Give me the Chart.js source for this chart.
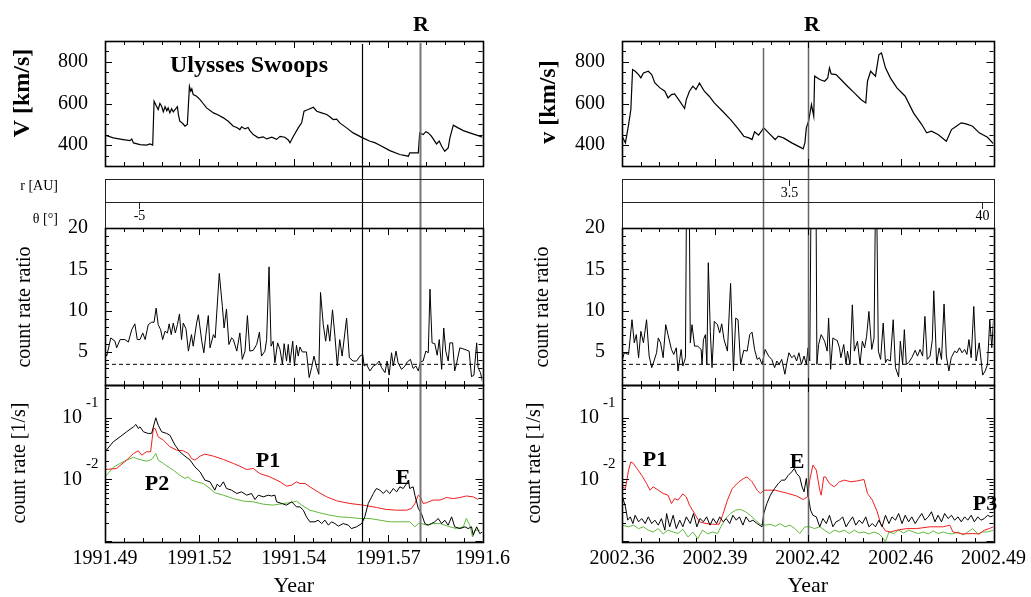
<!DOCTYPE html>
<html><head><meta charset="utf-8">
<script src="https://cdn.jsdelivr.net/npm/chart.js@4.4.1/dist/chart.umd.min.js"></script>
<style>
html,body{margin:0;padding:0;background:#fff;}
#wrap{position:relative;width:1031px;height:597px;overflow:hidden;background:#fff;}
#cL{position:absolute;left:0;top:0;}
#cR{position:absolute;left:510px;top:0;}
</style></head><body>
<div id="wrap"><canvas id="cL" width="515" height="597"></canvas><canvas id="cR" width="521" height="597"></canvas></div>
<script>
const SERIF = "'Liberation Serif','Times New Roman',serif";

// ---------- tick labels / axis ranges ----------
const xTicksLeft = [1991.49, 1991.5175, 1991.545, 1991.5725, 1991.6];
const xTickLabelsLeft = ['1991.49','1991.52','1991.54','1991.57','1991.6'];
const xTicksRight = [2002.36, 2002.3925, 2002.425, 2002.4575, 2002.49];
const xTickLabelsRight = ['2002.36','2002.39','2002.42','2002.46','2002.49'];
const vTicks = [400, 600, 800];
const ratioTicks = [5, 10, 15, 20];
const countTicks = [0.1, 0.01];
const ratioThreshold = 3.5;
const rLinesLeft = [1991.5650, 1991.5817];
const rLinesRight = [2002.4093, 2002.4251];

// ---------- solar wind speed ----------
const vLeftYear = [1991.4900,1991.4924,1991.4953,1991.4973,1991.4978,1991.4983,1991.5002,1991.5021,1991.5031,1991.5039,
1991.5043,1991.5049,1991.5055,1991.5060,1991.5065,1991.5070,1991.5075,1991.5080,1991.5084,1991.5089,
1991.5094,1991.5099,1991.5104,1991.5111,1991.5114,1991.5118,1991.5126,1991.5133,1991.5140,1991.5146,
1991.5150,1991.5153,1991.5157,1991.5167,1991.5177,1991.5186,1991.5196,1991.5216,1991.5230,1991.5245,
1991.5259,1991.5274,1991.5284,1991.5293,1991.5298,1991.5308,1991.5317,1991.5322,1991.5332,1991.5347,
1991.5361,1991.5371,1991.5386,1991.5400,1991.5410,1991.5424,1991.5434,1991.5439,1991.5449,1991.5463,
1991.5473,1991.5480,1991.5492,1991.5507,1991.5517,1991.5531,1991.5546,1991.5556,1991.5565,1991.5575,
1991.5584,1991.5604,1991.5623,1991.5651,1991.5672,1991.5686,1991.5701,1991.5730,1991.5759,1991.5784,
1991.5788,1991.5813,1991.5817,1991.5827,1991.5835,1991.5842,1991.5851,1991.5866,1991.5874,1991.5881,
1991.5890,1991.5900,1991.5905,1991.5915,1991.5929,1991.5944,1991.5963,1991.5983,1991.6000];
const vLeft = [448,435,427,422,430,411,403,400,406,400,
611,590,571,600,587,560,585,565,579,555,
575,560,571,585,545,515,505,491,499,683,
659,670,643,635,619,600,579,555,545,531,
515,491,485,475,488,478,485,470,451,435,
440,430,438,428,442,438,425,411,443,483,
507,563,571,582,563,555,547,535,523,525,
507,483,459,435,419,412,400,374,355,347,
363,363,459,451,465,459,443,406,420,395,
371,387,435,496,483,470,459,448,438];

const vRightYear = [2002.3600,2002.3612,2002.3623,2002.3631,2002.3637,2002.3646,2002.3658,2002.3666,2002.3675,2002.3692,
2002.3704,2002.3715,2002.3733,2002.3750,2002.3761,2002.3773,2002.3784,2002.3802,2002.3819,2002.3825,
2002.3836,2002.3848,2002.3859,2002.3871,2002.3888,2002.3905,2002.3923,2002.3952,2002.3980,2002.4009,
2002.4026,2002.4044,2002.4055,2002.4064,2002.4078,2002.4096,2002.4113,2002.4136,2002.4147,2002.4165,
2002.4194,2002.4228,2002.4234,2002.4240,2002.4245,2002.4253,2002.4263,2002.4271,2002.4274,2002.4292,
2002.4309,2002.4320,2002.4326,2002.4332,2002.4349,2002.4366,2002.4389,2002.4413,2002.4436,2002.4453,
2002.4459,2002.4470,2002.4487,2002.4499,2002.4508,2002.4522,2002.4539,2002.4562,2002.4591,2002.4620,
2002.4649,2002.4666,2002.4683,2002.4706,2002.4735,2002.4753,2002.4770,2002.4787,2002.4804,2002.4827,
2002.4850,2002.4879,2002.4900];
const vRight = [443,411,499,571,763,755,739,723,747,755,
739,699,675,659,627,643,646,611,576,619,
659,683,667,698,659,635,603,563,523,475,
443,435,427,464,448,483,459,427,443,435,
411,387,382,411,483,515,595,539,731,715,
707,723,771,742,739,715,683,651,619,603,
707,755,731,835,843,771,723,675,635,555,
499,459,467,451,419,475,491,507,502,491,
459,438,406];

// ---------- count rate ratio ----------
const ratioLeftYear = [1991.4900,1991.4905,1991.4917,1991.4929,1991.4934,1991.4944,1991.4958,1991.4968,1991.4978,1991.4987,
1991.4994,1991.5002,1991.5010,1991.5017,1991.5026,1991.5036,1991.5043,1991.5049,1991.5055,1991.5062,
1991.5068,1991.5075,1991.5082,1991.5087,1991.5093,1991.5099,1991.5105,1991.5111,1991.5117,1991.5123,
1991.5128,1991.5136,1991.5143,1991.5152,1991.5157,1991.5167,1991.5172,1991.5182,1991.5188,1991.5194,
1991.5201,1991.5206,1991.5216,1991.5221,1991.5233,1991.5242,1991.5247,1991.5254,1991.5261,1991.5269,
1991.5274,1991.5284,1991.5293,1991.5300,1991.5308,1991.5315,1991.5322,1991.5332,1991.5342,1991.5350,
1991.5356,1991.5366,1991.5371,1991.5378,1991.5384,1991.5390,1991.5395,1991.5403,1991.5410,1991.5417,
1991.5422,1991.5429,1991.5434,1991.5439,1991.5447,1991.5452,1991.5458,1991.5463,1991.5468,1991.5475,
1991.5487,1991.5495,1991.5502,1991.5509,1991.5517,1991.5523,1991.5528,1991.5536,1991.5543,1991.5549,
1991.5555,1991.5563,1991.5570,1991.5577,1991.5584,1991.5591,1991.5604,1991.5612,1991.5623,1991.5633,
1991.5643,1991.5651,1991.5655,1991.5662,1991.5672,1991.5682,1991.5691,1991.5699,1991.5706,1991.5716,
1991.5722,1991.5728,1991.5735,1991.5740,1991.5748,1991.5754,1991.5764,1991.5774,1991.5781,1991.5790,
1991.5798,1991.5806,1991.5813,1991.5819,1991.5827,1991.5835,1991.5842,1991.5847,1991.5853,1991.5861,
1991.5868,1991.5874,1991.5881,1991.5887,1991.5893,1991.5900,1991.5905,1991.5913,1991.5919,1991.5924,
1991.5934,1991.5949,1991.5961,1991.5968,1991.5975,1991.5983,1991.5987,1991.5994,1991.6000];
const ratioLeft = [5.0,4.5,6.7,6.3,5.5,6.5,6.5,6.2,7.7,8.4,
6.5,6.5,7.3,6.5,8.3,8.6,8.6,10.3,8.3,7.7,
6.5,7.5,7.3,8.4,7.1,8.5,7.3,8.3,9.6,6.5,
8.5,7.8,5.1,7.1,5.7,8.5,9.5,6.3,4.9,7.1,
9.4,5.5,7.1,6.7,14.5,10.5,7.9,10.2,5.9,6.7,
6.5,5.1,7.3,4.1,5.1,9.4,5.1,5.2,5.9,7.4,
4.5,5.1,6.5,15.3,5.7,6.3,3.7,6.1,5.3,3.5,
6.0,3.9,5.9,3.7,6.3,3.3,5.8,4.5,5.6,5.0,
5.0,1.9,3.1,4.5,3.1,2.3,12.2,8.3,6.3,8.3,
6.3,10.1,6.9,3.3,6.5,4.5,9.1,4.3,3.9,3.9,
4.5,4.7,3.3,3.5,2.7,3.3,3.5,3.9,3.1,2.5,
3.9,2.2,4.9,3.3,5.1,3.7,2.9,3.3,3.8,4.1,
3.0,3.3,2.7,3.8,3.9,5.1,4.9,12.6,6.1,6.0,
4.6,6.5,2.9,7.9,5.1,3.9,6.1,6.1,2.7,3.5,
5.5,5.3,5.1,2.0,2.2,6.1,3.1,2.5,1.4];

const ratioRightYear = [2002.3600,2002.3608,2002.3623,2002.3635,2002.3643,2002.3650,2002.3658,2002.3666,2002.3675,2002.3686,
2002.3695,2002.3704,2002.3712,2002.3721,2002.3727,2002.3735,2002.3744,2002.3753,2002.3761,2002.3773,
2002.3781,2002.3790,2002.3796,2002.3802,2002.3807,2002.3813,2002.3822,2002.3827,2002.3834,2002.3839,
2002.3845,2002.3854,2002.3865,2002.3877,2002.3880,2002.3885,2002.3892,2002.3897,2002.3902,2002.3909,
2002.3915,2002.3923,2002.3934,2002.3942,2002.3949,2002.3957,2002.3969,2002.3980,2002.3990,2002.3998,
2002.4006,2002.4015,2002.4026,2002.4038,2002.4047,2002.4055,2002.4064,2002.4073,2002.4081,2002.4090,
2002.4101,2002.4113,2002.4124,2002.4134,2002.4142,2002.4150,2002.4159,2002.4170,2002.4176,2002.4184,
2002.4194,2002.4203,2002.4211,2002.4219,2002.4228,2002.4237,2002.4245,2002.4251,2002.4257,2002.4263,
2002.4271,2002.4278,2002.4282,2002.4288,2002.4297,2002.4309,2002.4318,2002.4323,2002.4330,2002.4338,
2002.4346,2002.4353,2002.4361,2002.4366,2002.4376,2002.4384,2002.4389,2002.4398,2002.4406,2002.4413,
2002.4424,2002.4433,2002.4441,2002.4449,2002.4456,2002.4464,2002.4474,2002.4482,2002.4489,2002.4497,
2002.4505,2002.4514,2002.4522,2002.4528,2002.4539,2002.4549,2002.4557,2002.4568,2002.4574,2002.4582,
2002.4588,2002.4595,2002.4603,2002.4614,2002.4626,2002.4634,2002.4643,2002.4652,2002.4660,2002.4668,
2002.4678,2002.4686,2002.4691,2002.4701,2002.4710,2002.4718,2002.4727,2002.4735,2002.4744,2002.4752,
2002.4764,2002.4772,2002.4781,2002.4790,2002.4799,2002.4807,2002.4814,2002.4822,2002.4831,2002.4839,
2002.4850,2002.4862,2002.4871,2002.4879,2002.4887,2002.4894,2002.4900];
const ratioRight = [3.9,4.9,4.7,8.9,6.1,7.1,4.3,7.5,6.1,8.9,
4.5,3.1,3.9,4.9,6.7,6.1,4.3,8.3,7.1,5.3,
4.7,5.5,2.7,4.1,5.3,3.3,4.3,30,30,6.1,
8.3,5.7,5.7,5.3,3.5,6.5,7.1,3.5,15.8,7.5,
3.1,8.7,8.3,7.3,8.4,6.5,5.1,13.3,2.7,9.1,
8.9,3.5,5.2,5.1,7.1,7.4,5.3,4.1,4.3,3.5,
5.3,4.5,4.1,3.1,3.9,3.5,4.1,2.3,3.5,4.9,
4.3,4.6,3.9,4.9,3.5,4.5,3.5,5.5,3.9,30,
30,30,3.5,5.9,7.1,6.3,5.1,9.1,2.9,6.7,
6.5,6.4,5.5,4.3,5.9,3.5,5.1,3.5,10.7,5.1,
6.3,3.5,6.3,5.5,6.9,9.9,5.3,6.7,30,5.1,
4.1,8.5,3.7,4.1,3.9,8.9,3.1,2.0,6.3,3.5,
7.7,3.5,3.7,4.3,5.2,4.5,5.3,4.5,9.3,4.1,
4.5,6.5,12.4,3.5,5.5,4.1,10.8,4.5,2.7,4.3,
5.1,4.9,5.5,4.9,5.3,4.7,6.5,4.3,10.5,3.9,
6.1,2.2,2.7,3.5,8.9,5.5,8.9];

// ---------- count rates [1/s] ----------
const eLeftYear = [1991.4900,1991.4924,1991.4944,1991.4963,1991.4983,1991.4990,1991.4997,1991.5002,1991.5012,1991.5026,
1991.5036,1991.5048,1991.5055,1991.5065,1991.5080,1991.5089,1991.5104,1991.5118,1991.5133,1991.5148,
1991.5162,1991.5177,1991.5191,1991.5206,1991.5220,1991.5227,1991.5235,1991.5245,1991.5254,1991.5269,
1991.5284,1991.5298,1991.5313,1991.5327,1991.5337,1991.5347,1991.5361,1991.5376,1991.5385,1991.5395,
1991.5400,1991.5415,1991.5429,1991.5444,1991.5458,1991.5468,1991.5478,1991.5487,1991.5497,1991.5512,
1991.5521,1991.5531,1991.5541,1991.5551,1991.5560,1991.5570,1991.5580,1991.5594,1991.5609,1991.5618,
1991.5633,1991.5648,1991.5657,1991.5667,1991.5682,1991.5691,1991.5701,1991.5711,1991.5720,1991.5730,
1991.5740,1991.5750,1991.5759,1991.5769,1991.5779,1991.5784,1991.5788,1991.5798,1991.5803,1991.5813,
1991.5822,1991.5832,1991.5842,1991.5851,1991.5861,1991.5871,1991.5881,1991.5890,1991.5900,1991.5910,
1991.5919,1991.5934,1991.5949,1991.5958,1991.5968,1991.5973,1991.5983,1991.5992,1991.6000];
const eLeft = [0.0281,0.0408,0.0492,0.0593,0.0714,0.078,0.0672,0.0714,0.0593,0.0557,
0.056,0.1,0.076,0.0593,0.0557,0.0523,0.0361,0.0281,0.0239,0.0206,
0.016,0.0133,0.00976,0.00917,0.00671,0.0084,0.0076,0.00917,0.00715,0.00671,
0.00593,0.0063,0.00557,0.00593,0.00474,0.00557,0.00523,0.00557,0.0054,0.00557,
0.00435,0.00408,0.00384,0.00435,0.0036,0.0036,0.00318,0.00248,0.00206,0.00206,
0.00219,0.00193,0.00219,0.00182,0.00206,0.00193,0.00175,0.00193,0.00182,0.0016,
0.00171,0.00193,0.00248,0.00408,0.00593,0.00715,0.00671,0.00593,0.00671,0.00593,
0.00715,0.0063,0.0076,0.00715,0.00861,0.00976,0.00715,0.0076,0.00557,0.00339,
0.00281,0.00193,0.00182,0.00193,0.00206,0.00233,0.00193,0.00219,0.00182,0.00248,
0.00171,0.0016,0.00171,0.0016,0.00171,0.00125,0.00171,0.00133,0.00141];

const p1LeftYear = [1991.4900,1991.4934,1991.4963,1991.4983,1991.4997,1991.5007,1991.5021,1991.5033,1991.5041,1991.5046,
1991.5055,1991.5070,1991.5089,1991.5109,1991.5128,1991.5143,1991.5152,1991.5162,1991.5177,1991.5191,
1991.5216,1991.5245,1991.5274,1991.5293,1991.5313,1991.5332,1991.5351,1991.5381,1991.5410,1991.5429,
1991.5444,1991.5458,1991.5468,1991.5483,1991.5497,1991.5517,1991.5546,1991.5575,1991.5614,1991.5652,
1991.5691,1991.5720,1991.5750,1991.5779,1991.5793,1991.5803,1991.5813,1991.5819,1991.5827,1991.5837,
1991.5856,1991.5876,1991.5895,1991.5915,1991.5934,1991.5953,1991.5973,1991.5987];
const p1Left = [0.0145,0.0151,0.0206,0.0264,0.0292,0.0248,0.0281,0.0281,0.0672,0.0672,
0.0492,0.0435,0.0339,0.0299,0.0292,0.0264,0.0219,0.0206,0.0239,0.0258,
0.0239,0.0211,0.0182,0.0164,0.0145,0.0151,0.0125,0.011,0.00917,0.0078,
0.0081,0.00917,0.00861,0.00861,0.0076,0.00647,0.00523,0.00451,0.00408,0.00384,
0.00352,0.00327,0.00318,0.00318,0.0034,0.00408,0.00557,0.00523,0.00408,0.0042,
0.00464,0.00464,0.0051,0.0049,0.0051,0.0054,0.00523,0.00474];

const p2LeftYear = [1991.4900,1991.4924,1991.4944,1991.4963,1991.4983,1991.4992,1991.5007,1991.5021,1991.5031,1991.5039,
1991.5048,1991.5055,1991.5070,1991.5084,1991.5099,1991.5118,1991.5133,1991.5143,1991.5152,1991.5167,
1991.5186,1991.5206,1991.5220,1991.5245,1991.5274,1991.5303,1991.5332,1991.5361,1991.5390,1991.5419,
1991.5439,1991.5458,1991.5473,1991.5497,1991.5526,1991.5555,1991.5584,1991.5614,1991.5643,1991.5672,
1991.5701,1991.5730,1991.5759,1991.5788,1991.5803,1991.5813,1991.5822,1991.5837,1991.5856,1991.5876,
1991.5905,1991.5924,1991.5944,1991.5953,1991.5963,1991.5971,1991.5978,1991.5992];
const p2Left = [0.011,0.0157,0.0182,0.0206,0.0228,0.0219,0.0206,0.0198,0.0206,0.0219,
0.0264,0.0206,0.0182,0.016,0.0142,0.0117,0.0104,0.011,0.00976,0.00917,
0.00861,0.00715,0.00608,0.00557,0.0049,0.00446,0.00435,0.00398,0.00384,0.00408,
0.0042,0.00446,0.00384,0.00318,0.00288,0.00264,0.00248,0.00242,0.00233,0.00233,
0.00219,0.00206,0.00206,0.00206,0.00171,0.00193,0.00193,0.00182,0.00193,0.00193,
0.00171,0.0016,0.00171,0.00233,0.00182,0.00117,0.00151,0.00151];

const eRightYear = [2002.3600,2002.3612,2002.3620,2002.3629,2002.3638,2002.3646,2002.3658,2002.3669,2002.3681,2002.3692,
2002.3704,2002.3715,2002.3727,2002.3738,2002.3750,2002.3756,2002.3767,2002.3779,2002.3790,2002.3802,
2002.3813,2002.3825,2002.3839,2002.3850,2002.3862,2002.3873,2002.3885,2002.3896,2002.3908,2002.3919,
2002.3931,2002.3942,2002.3954,2002.3965,2002.3977,2002.3988,2002.4000,2002.4011,2002.4023,2002.4034,
2002.4046,2002.4058,2002.4073,2002.4090,2002.4096,2002.4107,2002.4119,2002.4134,2002.4147,2002.4159,
2002.4170,2002.4182,2002.4194,2002.4203,2002.4211,2002.4222,2002.4230,2002.4237,2002.4245,2002.4251,
2002.4260,2002.4268,2002.4280,2002.4292,2002.4303,2002.4315,2002.4326,2002.4338,2002.4349,2002.4361,
2002.4372,2002.4384,2002.4395,2002.4407,2002.4418,2002.4430,2002.4441,2002.4453,2002.4464,2002.4476,
2002.4487,2002.4499,2002.4510,2002.4522,2002.4534,2002.4545,2002.4557,2002.4568,2002.4580,2002.4591,
2002.4603,2002.4614,2002.4626,2002.4637,2002.4649,2002.4660,2002.4672,2002.4683,2002.4695,2002.4706,
2002.4718,2002.4729,2002.4741,2002.4753,2002.4764,2002.4776,2002.4787,2002.4799,2002.4810,2002.4822,
2002.4833,2002.4845,2002.4856,2002.4868,2002.4879,2002.4891,2002.4900];
const eRight = [0.00557,0.0036,0.00219,0.00248,0.00193,0.00263,0.00206,0.00233,0.00193,0.00248,
0.00193,0.00219,0.00182,0.00233,0.00151,0.00281,0.00171,0.00263,0.0016,0.00219,
0.00171,0.00248,0.00193,0.00281,0.00171,0.00233,0.00206,0.00248,0.00182,0.00233,
0.00193,0.00248,0.00206,0.00233,0.00193,0.00263,0.00219,0.00248,0.00182,0.00248,
0.00206,0.00219,0.00193,0.00171,0.00281,0.00408,0.00557,0.00715,0.00861,0.00976,
0.00976,0.0117,0.0133,0.0151,0.0125,0.011,0.0076,0.0063,0.0104,0.00557,
0.00318,0.00263,0.00248,0.00171,0.00233,0.00193,0.00263,0.00171,0.00206,0.00219,
0.00248,0.00171,0.00206,0.00248,0.00182,0.00219,0.00193,0.00248,0.00171,0.00193,
0.00171,0.00219,0.00171,0.00263,0.00193,0.00248,0.00219,0.00281,0.00193,0.00263,
0.00206,0.00248,0.00193,0.00233,0.00281,0.00219,0.00248,0.003,0.00206,0.00263,
0.00206,0.00281,0.00233,0.00263,0.00219,0.00248,0.00206,0.00248,0.00219,0.00263,
0.00206,0.00248,0.00219,0.00233,0.00263,0.00248,0.00263];

const p1RightYear = [2002.3600,2002.3612,2002.3623,2002.3631,2002.3640,2002.3652,2002.3669,2002.3686,2002.3698,2002.3709,
2002.3727,2002.3744,2002.3761,2002.3773,2002.3784,2002.3796,2002.3813,2002.3825,2002.3836,2002.3854,
2002.3871,2002.3894,2002.3917,2002.3940,2002.3952,2002.3969,2002.3986,2002.4009,2002.4026,2002.4038,
2002.4055,2002.4073,2002.4084,2002.4096,2002.4136,2002.4159,2002.4182,2002.4211,2002.4234,2002.4249,
2002.4257,2002.4268,2002.4280,2002.4292,2002.4297,2002.4306,2002.4312,2002.4326,2002.4343,2002.4361,
2002.4378,2002.4401,2002.4424,2002.4447,2002.4459,2002.4476,2002.4493,2002.4505,2002.4522,2002.4539,
2002.4562,2002.4597,2002.4631,2002.4678,2002.4724,2002.4747,2002.4758,2002.4793,2002.4827,2002.4850,
2002.4868,2002.4885,2002.4900];
const p1Right = [0.0076,0.00715,0.0142,0.0193,0.0182,0.0151,0.0117,0.00861,0.00671,0.0076,
0.00671,0.00593,0.00557,0.00408,0.0049,0.00464,0.00584,0.00523,0.00384,0.00281,
0.00206,0.00193,0.00188,0.00188,0.00263,0.00464,0.00715,0.00917,0.0104,0.011,
0.00917,0.00671,0.00593,0.00671,0.00671,0.0063,0.00593,0.0054,0.00474,0.00523,
0.00976,0.0171,0.0142,0.00671,0.00557,0.011,0.011,0.00861,0.0076,0.00917,
0.00976,0.00917,0.0095,0.01,0.00593,0.00464,0.003,0.00193,0.00147,0.00141,
0.00151,0.0016,0.0016,0.00171,0.00171,0.00182,0.00141,0.00131,0.00133,0.00131,
0.00151,0.0016,0.00171];

const p2RightYear = [2002.3600,2002.3623,2002.3640,2002.3658,2002.3675,2002.3692,2002.3709,2002.3727,2002.3744,2002.3761,
2002.3779,2002.3796,2002.3813,2002.3831,2002.3848,2002.3865,2002.3882,2002.3900,2002.3917,2002.3934,
2002.3946,2002.3963,2002.3980,2002.3998,2002.4015,2002.4032,2002.4049,2002.4067,2002.4084,2002.4101,
2002.4119,2002.4136,2002.4153,2002.4170,2002.4188,2002.4205,2002.4222,2002.4240,2002.4257,2002.4274,
2002.4292,2002.4309,2002.4326,2002.4343,2002.4361,2002.4378,2002.4395,2002.4413,2002.4430,2002.4447,
2002.4464,2002.4482,2002.4499,2002.4510,2002.4522,2002.4534,2002.4551,2002.4568,2002.4585,2002.4603,
2002.4620,2002.4637,2002.4655,2002.4672,2002.4689,2002.4706,2002.4724,2002.4741,2002.4758,2002.4776,
2002.4793,2002.4810,2002.4827,2002.4845,2002.4862,2002.4879,2002.4900];
const p2Right = [0.00182,0.00171,0.00182,0.0016,0.00171,0.00151,0.00141,0.0016,0.00131,0.00151,
0.00141,0.00133,0.00156,0.00117,0.00141,0.0011,0.00151,0.00131,0.00141,0.00133,
0.00171,0.00233,0.00281,0.00318,0.00327,0.003,0.00263,0.00219,0.00188,0.00182,
0.00188,0.00175,0.00193,0.00171,0.00182,0.0016,0.00133,0.00171,0.00171,0.0016,
0.00171,0.00151,0.00133,0.00151,0.00141,0.00151,0.00133,0.00151,0.00136,0.00141,
0.00131,0.00141,0.00131,0.00117,0.00098,0.00141,0.00133,0.00151,0.00136,0.00151,
0.00141,0.00133,0.00141,0.00131,0.00147,0.00133,0.00141,0.00133,0.00131,0.00141,
0.00126,0.00141,0.0016,0.00131,0.00141,0.00141,0.00151];

// ---------- helpers ----------
const pts = (xs, ys) => xs.map((x, i) => ({x: x, y: ys[i]}));

Chart.defaults.font.family = SERIF;
Chart.defaults.color = '#000';

const panelClip = {
  id: 'panelClip',
  beforeDatasetDraw(chart, args) {
    const ys = args.meta.yScale, ca = chart.chartArea, ctx = chart.ctx;
    ctx.save();
    ctx.beginPath();
    ctx.rect(ca.left, ys.top, ca.right - ca.left, ys.bottom - ys.top);
    ctx.clip();
  },
  afterDatasetDraw(chart) { chart.ctx.restore(); }
};

function crisp(v) { return Math.round(v) + 0.5; }

const decor = {
  id: 'decor',
  afterDatasetsDraw(chart, args, o) {
    const ctx = chart.ctx, ca = chart.chartArea, xs = chart.scales.x;
    const L = ca.left, R = ca.right;
    ctx.save();
    // vertical R lines
    o.rLines.forEach(r => {
      const px = crisp(xs.getPixelForValue(r.value));
      ctx.strokeStyle = r.color; ctx.lineWidth = r.width;
      ctx.beginPath(); ctx.moveTo(px, r.top); ctx.lineTo(px, ca.bottom); ctx.stroke();
    });
    // r / theta strip
    const sr = chart.scales.yR, st = chart.scales.yTh;
    ctx.strokeStyle = '#222'; ctx.lineWidth = 1;
    ctx.strokeRect(crisp(L), crisp(sr.top), Math.round(R - L), Math.round(st.bottom - sr.top));
    ctx.beginPath(); ctx.moveTo(L, crisp(sr.bottom)); ctx.lineTo(R, crisp(sr.bottom)); ctx.stroke();
    o.posMarks.forEach(m => {
      const s = chart.scales[m.row];
      const px = crisp(xs.getPixelForValue(m.value));
      ctx.beginPath(); ctx.moveTo(px, s.top); ctx.lineTo(px, s.top + 7); ctx.stroke();
      ctx.fillStyle = '#000'; ctx.font = '14px ' + SERIF; ctx.textAlign = 'center'; ctx.textBaseline = 'middle';
      ctx.fillText(m.text, px, s.top + 14);
    });
    // x ticks on panels
    const ids = ['yV', 'yRatio', 'yCount'];
    const xt = o.xTicks, minorStep = (xt[1] - xt[0]) / 5;
    ctx.strokeStyle = '#000'; ctx.lineWidth = 1;
    ids.forEach(id => {
      const s = chart.scales[id];
      for (let i = 1; i < 20; i++) {
        const px = crisp(xs.getPixelForValue(xt[0] + i * minorStep));
        const len = (i % 5 === 0) ? 7 : 4;
        ctx.beginPath();
        ctx.moveTo(px, s.top); ctx.lineTo(px, s.top + len);
        ctx.moveTo(px, s.bottom); ctx.lineTo(px, s.bottom - len);
        ctx.stroke();
      }
    });
    // y ticks
    function yTick(s, v, major) {
      const py = crisp(s.getPixelForValue(v));
      const len = major ? 7 : 4;
      ctx.beginPath();
      ctx.moveTo(L, py); ctx.lineTo(L + len, py);
      ctx.moveTo(R, py); ctx.lineTo(R - len, py);
      ctx.stroke();
    }
    const sv = chart.scales.yV;
    for (let v = sv.min + 50; v < sv.max; v += 50) yTick(sv, v, vTicks.includes(v));
    const sra = chart.scales.yRatio;
    for (let v = sra.min + 1; v < sra.max; v += 1) yTick(sra, v, ratioTicks.includes(v));
    const sc = chart.scales.yCount;
    for (let d = -4; d <= 0; d++) {
      for (let m = 1; m <= 9; m++) {
        const v = m * Math.pow(10, d);
        if (v > sc.min && v < sc.max) yTick(sc, v, m === 1);
      }
    }
    // frames
    ctx.lineWidth = 1.6; ctx.strokeStyle = '#000';
    ids.forEach(id => {
      const s = chart.scales[id];
      ctx.strokeRect(crisp(L), crisp(s.top), Math.round(R - L), Math.round(s.bottom - s.top));
    });
    // log tick labels 10^n
    ctx.fillStyle = '#000';
    countTicks.forEach(v => {
      const py = sc.getPixelForValue(v);
      ctx.font = '20px ' + SERIF; ctx.textAlign = 'right'; ctx.textBaseline = 'middle';
      ctx.fillText('10', L - 23, py);
      ctx.font = '15px ' + SERIF; ctx.textAlign = 'left';
      ctx.fillText(String(Math.round(Math.log10(v))), L - 19, py - 15);
    });
    // side labels of r/theta strip
    ctx.font = '14px ' + SERIF; ctx.textAlign = 'right'; ctx.textBaseline = 'middle';
    o.sideLabels.forEach(t => ctx.fillText(t.text, t.x, t.y));
    // y titles
    o.yTitles.forEach(t => {
      ctx.save(); ctx.translate(t.x, t.y); ctx.rotate(-Math.PI / 2);
      ctx.font = t.font; ctx.textAlign = 'center'; ctx.textBaseline = 'middle';
      ctx.fillText(t.text, 0, 0); ctx.restore();
    });
    // free labels
    o.labels.forEach(t => {
      ctx.font = t.font; ctx.textAlign = 'center'; ctx.textBaseline = 'middle';
      ctx.fillText(t.text, t.x, t.y);
    });
    ctx.restore();
  }
};

function makeChart(canvasId, cfg) {
  const yW = cfg.yWidth;
  const yBase = (weight, extra) => Object.assign({
    type: 'linear', position: 'left', stack: 'col', stackWeight: weight, display: true,
    grid: {display: false, drawTicks: false}, border: {display: false}, ticks: {display: false},
    afterFit: s => { s.width = yW; }
  }, extra);
  const tickFont = {family: SERIF, size: 20};
  const datasets = [
    {data: pts(cfg.vYear, cfg.v), yAxisID: 'yV', borderColor: '#000', borderWidth: 1.2},
    {data: pts(cfg.ratioYear, cfg.ratio), yAxisID: 'yRatio', borderColor: '#000', borderWidth: 1},
    {data: [{x: cfg.xTicks[0], y: ratioThreshold}, {x: cfg.xTicks[4], y: ratioThreshold}], yAxisID: 'yRatio', borderColor: '#000', borderWidth: 1, borderDash: [4, 3]},
    {data: pts(cfg.eYear, cfg.e), yAxisID: 'yCount', borderColor: '#000', borderWidth: 1},
    {data: pts(cfg.p1Year, cfg.p1), yAxisID: 'yCount', borderColor: 'rgb(240,30,30)', borderWidth: 1},
    {data: pts(cfg.p2Year, cfg.p2), yAxisID: 'yCount', borderColor: 'rgb(95,185,60)', borderWidth: 1}
  ];
  datasets.forEach(d => { d.pointRadius = 0; d.tension = 0; d.fill = false; });
  // stacked left axes are placed bottom-up, so list them from the bottom panel to the top panel
  return new Chart(document.getElementById(canvasId), {
    type: 'line',
    data: {datasets: datasets},
    options: {
      responsive: false, animation: false, events: [],
      layout: {padding: {top: 41, right: cfg.padRight, bottom: 0, left: 0}},
      plugins: {legend: {display: false}, tooltip: {enabled: false}, decor: cfg.decor},
      scales: {
        x: {
          type: 'linear', position: 'bottom', min: cfg.xTicks[0], max: cfg.xTicks[4],
          afterBuildTicks: s => { s.ticks = cfg.xTicks.map(v => ({value: v})); },
          ticks: {autoSkip: false, maxRotation: 0, padding: 5, font: tickFont, color: '#000',
                  callback: (v, i) => cfg.xLabels[i]},
          grid: {display: false, drawTicks: false}, border: {display: false},
          title: {display: true, text: 'Year', font: {family: SERIF, size: 22}, color: '#000', padding: {top: 0, bottom: -2}},
          afterFit: s => { s.height = 55; }
        },
        yCount: yBase(157, {type: 'logarithmic', min: 0.00097, max: 0.34}),
        yRatio: yBase(157, {min: 1, max: 20,
          afterBuildTicks: s => { s.ticks = ratioTicks.map(v => ({value: v})); },
          ticks: {display: true, padding: 17, font: tickFont, color: '#000'}}),
        yTh: yBase(26, {min: 0, max: 1}),
        yR: yBase(23, {min: 0, max: 1}),
        yGap: yBase(13, {min: 0, max: 1}),
        yV: yBase(125, {min: 300, max: 900,
          afterBuildTicks: s => { s.ticks = vTicks.map(v => ({value: v})); },
          ticks: {display: true, padding: 17, font: tickFont, color: '#000'}})
      }
    },
    plugins: [panelClip, decor]
  });
}

const B24 = 'bold 24px ' + SERIF, B22 = 'bold 22px ' + SERIF, N20 = '20px ' + SERIF;

makeChart('cL', {
  yWidth: 105, padRight: 32,
  xTicks: xTicksLeft, xLabels: xTickLabelsLeft,
  vYear: vLeftYear, v: vLeft, ratioYear: ratioLeftYear, ratio: ratioLeft,
  eYear: eLeftYear, e: eLeft, p1Year: p1LeftYear, p1: p1Left, p2Year: p2LeftYear, p2: p2Left,
  decor: {
    xTicks: xTicksLeft,
    rLines: [{value: rLinesLeft[0], color: '#000', width: 1.2, top: 44}, {value: rLinesLeft[1], color: '#777', width: 2, top: 43}],
    posMarks: [{value: 1991.4999, row: 'yTh', text: '-5'}],
    sideLabels: [{text: 'r [AU]', x: 58, y: 186}, {text: 'θ [°]', x: 58, y: 219}],
    yTitles: [{text: 'V [km/s]', x: 23, y: 93, font: B24},
              {text: 'count rate ratio', x: 25, y: 307, font: N20},
              {text: 'count rate [1/s]', x: 20, y: 463, font: N20}],
    labels: [{text: 'R', x: 421, y: 25, font: B22},
             {text: 'Ulysses Swoops', x: 249, y: 66, font: B24},
             {text: 'P1', x: 268, y: 461, font: B22},
             {text: 'P2', x: 157, y: 484, font: B22},
             {text: 'E', x: 403, y: 478, font: B22}]
  }
});

makeChart('cR', {
  yWidth: 112, padRight: 33,
  xTicks: xTicksRight, xLabels: xTickLabelsRight,
  vYear: vRightYear, v: vRight, ratioYear: ratioRightYear, ratio: ratioRight,
  eYear: eRightYear, e: eRight, p1Year: p1RightYear, p1: p1Right, p2Year: p2RightYear, p2: p2Right,
  decor: {
    xTicks: xTicksRight,
    rLines: [{value: rLinesRight[0], color: '#666', width: 1.5, top: 48}, {value: rLinesRight[1], color: '#666', width: 1.5, top: 43}],
    posMarks: [{value: 2002.4184, row: 'yR', text: '3.5'}, {value: 2002.4859, row: 'yTh', text: '40'}],
    sideLabels: [],
    yTitles: [{text: 'v [km/s]', x: 39, y: 102, font: B24},
              {text: 'count rate ratio', x: 33, y: 307, font: N20},
              {text: 'count rate [1/s]', x: 25, y: 463, font: N20}],
    labels: [{text: 'R', x: 302, y: 25, font: B22},
             {text: 'P1', x: 145, y: 460, font: B22},
             {text: 'E', x: 287, y: 462, font: B22},
             {text: 'P3', x: 475, y: 504, font: B22}]
  }
});
</script>
</body></html>
